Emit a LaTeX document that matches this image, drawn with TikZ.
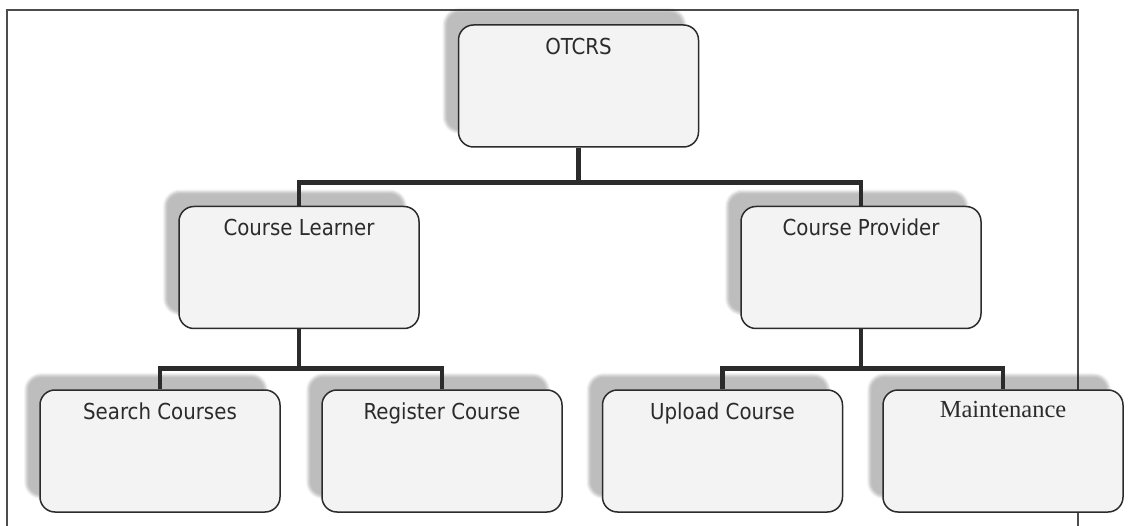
\documentclass[tikz,border=0pt]{standalone}
\usepackage{fontspec}
\setmainfont{DejaVu Sans Condensed}
\newfontfamily\serifface{Liberation Serif}
\usetikzlibrary{shadows.blur}
\definecolor{ink}{HTML}{2B2B2B}
\definecolor{boxfill}{HTML}{F3F3F3}
\tikzset{
  x=1pt, y=-1pt,
  unit/.style={draw=ink, line width=1.5pt, fill=boxfill, rounded corners=15pt,
    minimum width=240pt, minimum height=122pt, inner sep=0pt,
    blur shadow={shadow xshift=-14pt, shadow yshift=15pt,
      shadow blur radius=2.5pt, shadow opacity=26}},
  caption/.style={anchor=base, text=ink, inner sep=0pt, font=\fontsize{22}{26}\selectfont},
  serifcaption/.style={anchor=base, text=ink, inner sep=0pt, font=\serifface\fontsize{24.5}{28}\selectfont},
  link/.style={draw=ink, line width=4.5pt, line join=miter},
  frameline/.style={draw=black!70, line width=1.3pt}
}
\begin{document}
\begin{tikzpicture}
\useasboundingbox (0,0) rectangle (1129,526);
% outer frame (its lower edge lies below the page)
\draw[frameline] (7,540) -- (7,10) -- (1078,10) -- (1078,540);

% boxes
\node[unit] (otc) at (578.5,86) {};
\node[unit] (lrn) at (299,267.5) {};
\node[unit] (prv) at (861,267.5) {};
\node[unit] (srch) at (160,451) {};
\node[unit] (reg) at (442,451) {};
\node[unit] (upl) at (722.5,451) {};
\node[unit] (mnt) at (1003,451) {};

% captions near the top of each box
\node[caption] (otc-t) at ([yshift=-30pt]otc.north) {OTCRS};
\node[caption] (lrn-t) at ([yshift=-30pt]lrn.north) {Course Learner};
\node[caption] (prv-t) at ([yshift=-30pt]prv.north) {Course Provider};
\node[caption] (srch-t) at ([yshift=-30pt]srch.north) {Search Courses};
\node[caption] (reg-t) at ([yshift=-30pt]reg.north) {Register Course};
\node[caption] (upl-t) at ([yshift=-30pt]upl.north) {Upload Course};
\node[serifcaption] (mnt-t) at ([yshift=-28pt]mnt.north) {Maintenance};

% hierarchy connectors
\draw[link] (otc.south) -- ++(0,35) -| (lrn.north);
\draw[link] (otc.south) -- ++(0,35) -| (prv.north);
\draw[link] (lrn.south) -- ++(0,39) -| (srch.north);
\draw[link] (lrn.south) -- ++(0,39) -| (reg.north);
\draw[link] (prv.south) -- ++(0,39) -| (upl.north);
\draw[link] (prv.south) -- ++(0,39) -| (mnt.north);
\end{tikzpicture}
\end{document}
